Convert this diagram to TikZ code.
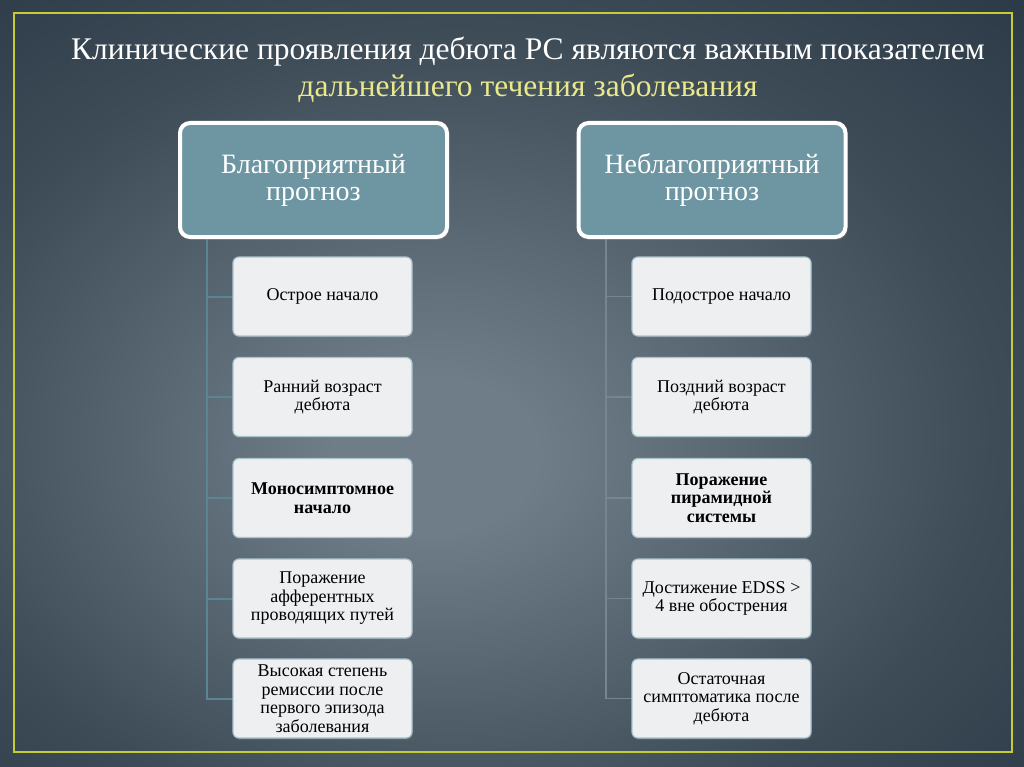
\documentclass[tikz,border=0pt]{standalone}
\usepackage{fontspec}
\setmainfont{Liberation Serif}
\usetikzlibrary{shadows}
\definecolor{bgin}{RGB}{110,125,135}
\definecolor{bgmid}{RGB}{62,76,88}
\definecolor{bgedge}{RGB}{34,48,62}
\definecolor{bgout}{RGB}{22,36,52}
\definecolor{frameyel}{RGB}{202,202,50}
\definecolor{titleyel}{RGB}{234,232,140}
\definecolor{headfill}{RGB}{110,150,162}
\definecolor{boxfill}{RGB}{238,239,241}
\definecolor{boxline}{RGB}{170,196,206}
\definecolor{trunkl}{RGB}{92,132,146}
\definecolor{trunkr}{RGB}{118,134,145}
\pgfdeclareradialshading{vignette}{\pgfpoint{-4bp}{-5bp}}{color(0bp)=(bgin); color(5bp)=(bgin); color(26bp)=(bgmid); color(46bp)=(bgedge); color(75bp)=(bgout)}
\begin{document}
\begin{tikzpicture}[x=1pt, y=-1pt]
\tikzset{title/.style={text=white, font=\fontsize{31.5}{36}\selectfont, inner sep=0},
  head/.style={draw=white, line width=4pt, fill=headfill, rounded corners=10pt, text=white,
    minimum width=267pt, minimum height=114pt, align=center, font=\fontsize{28}{27}\selectfont,
    drop shadow={opacity=.35, shadow xshift=2pt, shadow yshift=-3pt}},
  item/.style={draw=boxline, line width=1.2pt, fill=boxfill, rounded corners=6pt, text=black,
    minimum width=179pt, minimum height=79pt, align=center, font=\fontsize{18}{18.5}\selectfont,
    drop shadow={opacity=.25, shadow xshift=1pt, shadow yshift=-2pt}},
  trunk/.style={draw=trunkl, line width=2pt}}
% background and frame
\shade[shading=vignette] (0,0) rectangle (1024,767);
\draw[frameyel, line width=2.5pt] (14,13) rectangle (1012,752);
\useasboundingbox (0,0) rectangle (1024,767);
% title
\node[title] (t1) at (528,52) {Клинические проявления дебюта РС являются важным показателем};
\node[title, text=titleyel] (t2) at (528,88) {дальнейшего течения заболевания};
% left column
\coordinate (lt) at (207,237);
\draw[trunk] (lt) |- (322,296.5);
\draw[trunk] (lt) |- (322,397);
\draw[trunk] (lt) |- (322,498);
\draw[trunk] (lt) |- (322,598.5);
\draw[trunk] (lt) |- (322,698.5);
\node[head] (l0) at (313.5,180) {Благоприятный\\прогноз};
\node[item] (l1) at (322.5,296.5) {Острое начало};
\node[item] (l2) at (322.5,397) {Ранний возраст\\дебюта};
\node[item, font=\fontsize{18}{18.5}\selectfont\bfseries] (l3) at (322.5,498) {Моносимптомное\\начало};
\node[item] (l4) at (322.5,598.5) {Поражение\\афферентных\\проводящих путей};
\node[item] (l5) at (322.5,698.5) {Высокая степень\\ремиссии после\\первого эпизода\\заболевания};
% right column
\coordinate (rt) at (606,237);
\draw[trunk, trunkr, line width=1.5pt] (rt) |- (721,296.5);
\draw[trunk, trunkr, line width=1.5pt] (rt) |- (721,397);
\draw[trunk, trunkr, line width=1.5pt] (rt) |- (721,498);
\draw[trunk, trunkr, line width=1.5pt] (rt) |- (721,598.5);
\draw[trunk, trunkr, line width=1.5pt] (rt) |- (721,698.5);
\node[head] (r0) at (712,180) {Неблагоприятный\\прогноз};
\node[item] (r1) at (721.5,296.5) {Подострое начало};
\node[item] (r2) at (721.5,397) {Поздний возраст\\дебюта};
\node[item, font=\fontsize{18}{18.5}\selectfont\bfseries] (r3) at (721.5,498) {Поражение\\пирамидной\\системы};
\node[item] (r4) at (721.5,598.5) {Достижение EDSS >\\4 вне обострения};
\node[item] (r5) at (721.5,698.5) {Остаточная\\симптоматика после\\дебюта};
\end{tikzpicture}
\end{document}
